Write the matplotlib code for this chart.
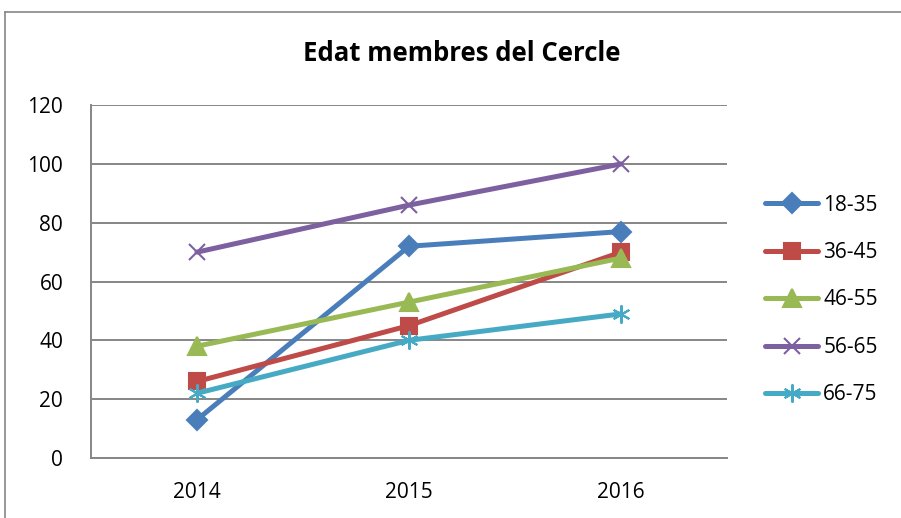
import numpy as np
import matplotlib.pyplot as plt
from matplotlib.lines import Line2D

years = ["2014", "2015", "2016"]
groups = ["18-35", "36-45", "46-55", "56-65", "66-75"]
v_18_35 = [13, 72, 77]
v_36_45 = [26, 45, 70]
v_46_55 = [38, 53, 68]
v_56_65 = [70, 86, 100]
v_66_75 = [22, 40, 49]

series = [v_18_35, v_36_45, v_46_55, v_56_65, v_66_75]
colours = ["#4A7EBB", "#BE4B48", "#98B954", "#7D60A0", "#46AAC5"]
markers = ["D", "s", "^", "x", (6, 2, 0)]
msizes = [10, 12, 13, 12, 13]

plt.rcParams['font.family'] = ['Open Sans', 'DejaVu Sans']
fs = 15

fig = plt.figure(figsize=(9.01, 5.18), dpi=100)
ax = fig.add_axes([0.101, 0.116, 0.706, 0.681])

x = np.arange(len(years))
for vals, col, mk, ms, lab in zip(series, colours, markers, msizes, groups):
    ax.plot(x, vals, color=col, lw=3.6, marker=mk, markersize=ms,
            markeredgewidth=1.5, markeredgecolor=col, label=lab,
            solid_capstyle='round', solid_joinstyle='round')

ax.set_xlim(-0.5, 2.5)
ax.set_ylim(0, 120)
ax.set_yticks(np.arange(0, 121, 20))
ax.set_xticks(x)
ax.set_xticklabels(years)
ax.tick_params(axis='x', length=0, pad=17, labelsize=fs)
ax.tick_params(axis='y', length=0, pad=20, labelsize=fs)
ax.grid(axis='y', color='#868686', lw=1.4)
ax.set_axisbelow(True)
for s in ['top', 'right']:
    ax.spines[s].set_visible(False)
for s in ['left', 'bottom']:
    ax.spines[s].set_color('#868686')
    ax.spines[s].set_linewidth(1.4)

fig.text(0.512, 0.897, "Edat membres del Cercle", ha='center', va='center',
         fontsize=18.5, fontweight='bold')

leg = ax.legend(loc='center left', bbox_to_anchor=(765 / 901, 0.421),
                bbox_transform=fig.transFigure, frameon=False,
                borderaxespad=0, borderpad=0,
                fontsize=fs, labelspacing=1.27, handlelength=2.55,
                handletextpad=0.25)

# outer chart border
fig.add_artist(Line2D([5 / 901, 5 / 901], [0, 1 - 12 / 518], color='#868686',
                      lw=1.2, transform=fig.transFigure))
fig.add_artist(Line2D([5 / 901, 1], [1 - 12 / 518, 1 - 12 / 518],
                      color='#868686', lw=1.2, transform=fig.transFigure))

fig.savefig("out.png", dpi=100)
